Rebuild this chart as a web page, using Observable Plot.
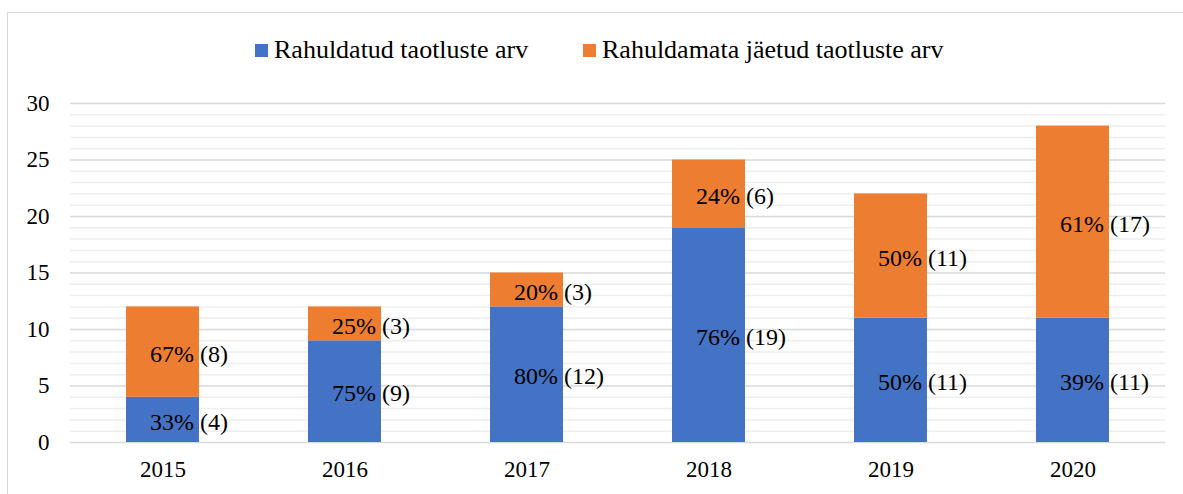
<!DOCTYPE html>
<html>
<head>
<meta charset="utf-8">
<script src="https://cdn.jsdelivr.net/npm/d3@7"></script>
<script src="https://cdn.jsdelivr.net/npm/@observablehq/plot@0.6"></script>
<style>
  html, body { margin: 0; padding: 0; background: #fff; overflow: hidden; }
  body { width: 1183px; height: 494px; position: relative; font-family: 'Liberation Serif', serif; }
  #frame { position: absolute; left: 7px; top: 12px; width: 1200px; height: 500px; border: 1.5px solid #d9d9d9; box-sizing: border-box; }
  #legend { position: absolute; left: 0; top: 0; width: 1183px; height: 80px; }
  .item { position: absolute; top: 32px; font-family: 'Liberation Serif', serif; font-size: 26px; color: #000; white-space: nowrap; line-height: 36px; }
  .sw { display: inline-block; width: 13px; height: 13px; margin-right: 6px; vertical-align: 1px; }
  #chart { position: absolute; left: 0; top: 80px; }
  #chart svg text { font-family: 'Liberation Serif', serif; }
</style>
</head>
<body>
<div id="frame"></div>
<div id="legend"></div>
<div id="chart"></div>
<script>
const years = ["2015", "2016", "2017", "2018", "2019", "2020"];
const series = ["Rahuldatud taotluste arv", "Rahuldamata jäetud taotluste arv"];
const colors = ["#4472C4", "#ED7D31"];
const approved = [4, 9, 12, 19, 11, 11];
const rejected = [8, 3, 3, 6, 11, 17];
const yTicks = [0, 5, 10, 15, 20, 25, 30];

const data = [];
years.forEach((yr, i) => {
  const total = approved[i] + rejected[i];
  [approved[i], rejected[i]].forEach((v, k) => {
    data.push({
      year: yr,
      series: series[k],
      value: v,
      label: Math.round(v / total * 100) + "% (" + v + ")"
    });
  });
});

const legend = document.getElementById("legend");
const legendLeft = [255, 583];
series.forEach((s, k) => {
  const d = document.createElement("div");
  d.className = "item";
  d.style.left = legendLeft[k] + "px";
  d.innerHTML = `<span class="sw" style="background:${colors[k]}"></span>${s}`;
  legend.appendChild(d);
});

const minor = d3.range(0, 31).filter(v => v % 5 !== 0);

const chart = Plot.plot({
  width: 1183,
  height: 414,
  marginLeft: 70,
  marginRight: 18,
  marginTop: 23,
  marginBottom: 52,
  style: { fontFamily: "'Liberation Serif', serif", fontSize: "23px", color: "#000", background: "transparent" },
  x: { domain: years, paddingInner: 0.6, paddingOuter: 0.3, label: null },
  y: { domain: [0, 30], label: null },
  color: { domain: series, range: colors },
  marks: [
    Plot.ruleY(minor, { stroke: "#eeeeee", strokeWidth: 1.5 }),
    Plot.ruleY(yTicks, { stroke: "#d9d9d9", strokeWidth: 1.5 }),
    Plot.barY(data, { x: "year", y: "value", fill: "series", order: series, z: "series" }),
    Plot.text(data, Plot.stackY({ x: "year", y: "value", z: "series", order: series, text: "label", textAnchor: "start", dx: -13, dy: 2, fill: "#000", fontSize: 24 })),
    Plot.axisX({ tickSize: 0, tickPadding: 18, fontSize: 23 }),
    Plot.axisY({ ticks: yTicks, tickSize: 0, tickPadding: 21, fontSize: 23 })
  ]
});
document.getElementById("chart").appendChild(chart);
</script>
</body>
</html>
